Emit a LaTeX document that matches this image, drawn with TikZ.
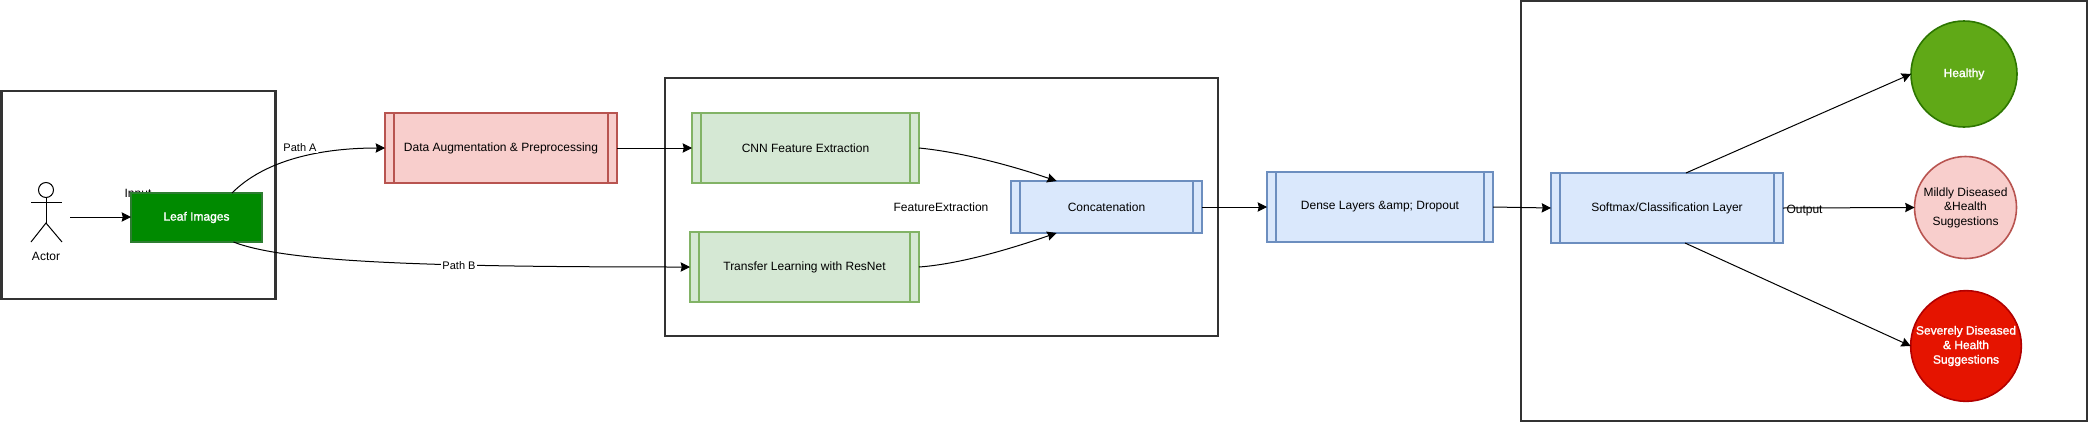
\documentclass[tikz,border=0pt]{standalone}
\usepackage{fontspec}
\setmainfont{Liberation Sans}
\newfontface\heavyface[FakeBold=1.6]{Liberation Sans}
\usetikzlibrary{arrows.meta}
\definecolor{greenfill}{HTML}{D5E8D4}
\definecolor{greenline}{HTML}{82B366}
\definecolor{redfill}{HTML}{F8CECC}
\definecolor{redline}{HTML}{B85450}
\definecolor{bluefill}{HTML}{DAE8FC}
\definecolor{blueline}{HTML}{6C8EBF}
\definecolor{leaffill}{HTML}{008A00}
\definecolor{leafline}{HTML}{2E7D32}
\definecolor{healthyfill}{HTML}{60A917}
\definecolor{healthyline}{HTML}{2D7600}
\definecolor{severefill}{HTML}{E51400}
\definecolor{severeline}{HTML}{B20000}
\tikzset{
  every node/.style={font=\fontsize{9}{10.9}\selectfont, inner sep=0pt, outer sep=0pt, align=center},
  size/.style 2 args={minimum width=#1*0.75pt, minimum height=#2*0.75pt},
  groupbox/.style={draw=black!80, line width=1.6pt},
  procbox/.style 2 args={draw=#1, fill=#2, line width=1.5pt,
    path picture={
      \draw [#1, line width=1.5pt] ([xshift=7pt]path picture bounding box.north west) -- ([xshift=7pt]path picture bounding box.south west);
      \draw [#1, line width=1.5pt] ([xshift=-7pt]path picture bounding box.north east) -- ([xshift=-7pt]path picture bounding box.south east);
    }},
  result/.style={circle, line width=1.2pt},
  whitetext/.style={text=white, font=\heavyface\fontsize{9}{10.9}\selectfont},
  link/.style={draw=black, line width=0.75pt, -{Stealth[length=7pt, width=7pt, inset=0.8pt]}},
  linklabel/.style={fill=white, inner sep=1pt, font=\fontsize{8.25}{10}\selectfont}
}
\begin{document}
\begin{tikzpicture}[x=0.75pt, y=-0.75pt]
  \useasboundingbox (0, 0) rectangle (2088, 422);
  % outer group boxes
  \node [groupbox, size={274}{208}] (inputgroup) at (138.5, 195) {};
  \node [groupbox, size={553}{258}] (featuregroup) at (941.5, 207) {};
  \node [groupbox, size={566}{420}] (outputgroup) at (1804, 211) {};
  % actor
  \node [draw, circle, line width=0.75pt, minimum size=11.25pt] (actorhead) at (46, 190) {};
  \coordinate (actorhip) at (46, 223);
  \draw [line width=0.75pt] (actorhead.south) -- (actorhip);
  \draw [line width=0.75pt] (31, 202) -- (62, 202);
  \draw [line width=0.75pt] (31, 242) -- (actorhip) -- (62, 242);
  \node (actorlabel) at (46, 256) {Actor};
  \coordinate (actorhand) at (70, 217);
  % input
  \node (inputlabel) at (138, 195) {Input};
  \node [draw=leafline, fill=leaffill, line width=1pt, whitetext, size={131}{49}] (leaf) at (196.5, 217.5) {Leaf Images};
  % process boxes
  \node [procbox={redline}{redfill}, size={232}{70}] (augment) at (501, 148) {Data Augmentation \& Preprocessing};
  \node [procbox={greenline}{greenfill}, size={227}{70}] (cnn) at (805.5, 148) {CNN Feature Extraction};
  \node [procbox={greenline}{greenfill}, size={229}{70}] (transfer) at (804.5, 267) {Transfer Learning with ResNet};
  \node (featurelabel) at (941, 207) {FeatureExtraction};
  \node [procbox={blueline}{bluefill}, size={191}{52}] (concat) at (1106.5, 207) {Concatenation};
  \node [procbox={blueline}{bluefill}, size={226}{70}] (dense) at (1380, 207) {Dense Layers \&amp; Dropout};
  \node [procbox={blueline}{bluefill}, size={232}{70}] (softmax) at (1667, 208) {Softmax/Classification Layer};
  % outcome circles
  \node [result, draw=healthyline, fill=healthyfill, whitetext, minimum size=79.5pt] (healthy) at (1964, 74) {Healthy};
  \node [result, draw=redline, fill=redfill, minimum size=76.5pt] (mild) at (1965.5, 207.5) {Mildly Diseased\\\&Health\\Suggestions};
  \node [result, draw=severeline, fill=severefill, whitetext, minimum size=83pt] (severe) at (1966, 346) {Severely Diseased\\\& Health\\Suggestions};
  % connectors
  \draw [link] (actorhand) -- (leaf.west |- actorhand);
  \draw [link] ([xshift=26.6pt]leaf.north) .. controls (265, 160) and (320, 148) .. (augment.west);
  \draw [link] ([xshift=27.7pt]leaf.south) .. controls (285, 262) and (420, 267) .. (transfer.west);
  \draw [link] (augment.east) -- (cnn.west);
  \draw [link] (cnn.east) .. controls (960, 152) and (1010, 165) .. ([xshift=-37.5pt]concat.north);
  \draw [link] (transfer.east) .. controls (960, 264) and (1010, 249) .. ([xshift=-37.5pt]concat.south);
  \draw [link] (concat.east) -- (dense.west);
  \draw [link] (dense.east) -- (softmax.west);
  \draw [link] ([xshift=14.2pt]softmax.north) -- (healthy.west);
  \draw [link] (softmax.east) -- (mild.west);
  \draw [link] ([xshift=13.5pt]softmax.south) -- (severe.west);
  % connector labels
  \node [linklabel] (patha) at (300, 148) {Path A};
  \node [linklabel] (pathb) at (459, 266) {Path B};
  \node (outputlabel) at (1804.5, 211) {Output};
\end{tikzpicture}
\end{document}
